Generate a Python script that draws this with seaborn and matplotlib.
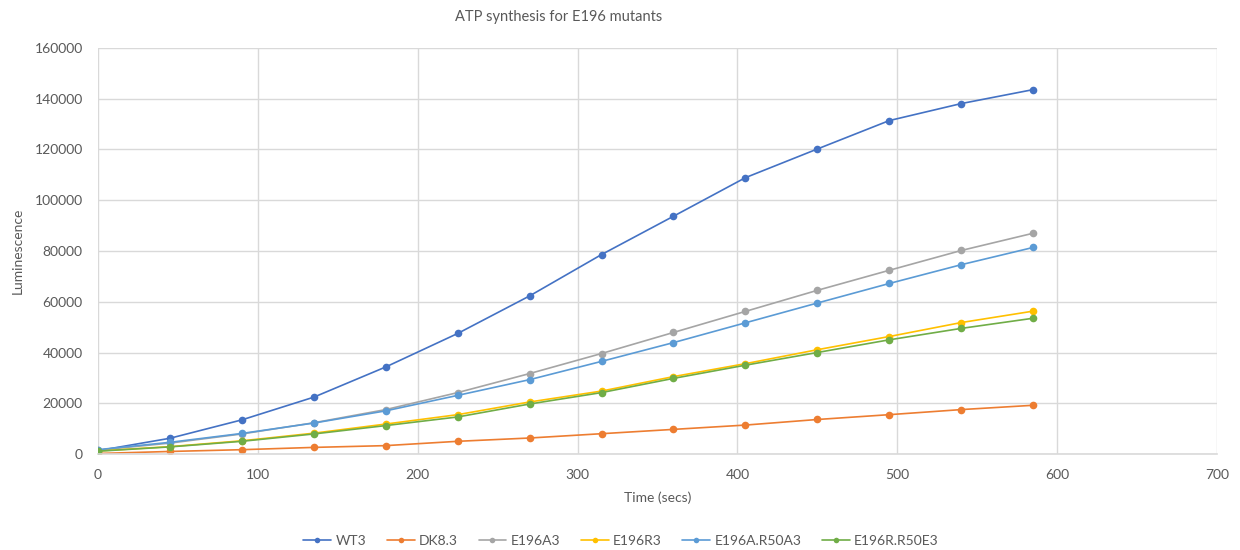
import matplotlib
matplotlib.use("Agg")
import matplotlib.pyplot as plt
import seaborn as sns
import pandas as pd

time_secs = [0, 45, 90, 135, 180, 225, 270, 315, 360, 405, 450, 495, 540, 585]
series_names = ["WT3", "DK8.3", "E196A3", "E196R3", "E196A.R50A3", "E196R.R50E3"]
wt3 = [1300, 6200, 13450, 22400, 34300, 47500, 62300, 78600, 93700, 108900, 120200, 131400, 138100, 143600]
dk83 = [200, 1000, 1700, 2600, 3300, 5000, 6300, 8000, 9700, 11400, 13600, 15500, 17500, 19200]
e196a3 = [1500, 4300, 7900, 12300, 17500, 24200, 31700, 39600, 47900, 56200, 64500, 72400, 80200, 87000]
e196r3 = [1200, 2900, 5200, 8200, 11800, 15500, 20500, 24800, 30500, 35600, 41100, 46300, 51800, 56300]
e196a_r50a3 = [1700, 4600, 8100, 12200, 17000, 23100, 29300, 36500, 43900, 51700, 59500, 67200, 74600, 81400]
e196r_r50e3 = [1100, 2800, 5000, 7900, 11200, 14600, 19700, 24200, 29800, 35000, 40000, 45000, 49500, 53500]
colors = ["#4472C4", "#ED7D31", "#A5A5A5", "#FFC000", "#5B9BD5", "#70AD47"]

values = [wt3, dk83, e196a3, e196r3, e196a_r50a3, e196r_r50e3]
rows = []
for name, vals in zip(series_names, values):
    for t, v in zip(time_secs, vals):
        rows.append({"Time": t, "Luminescence": v, "Series": name})
df = pd.DataFrame(rows)

sns.set_theme(style="white")
plt.rcParams["font.family"] = ["Lato", "DejaVu Sans"]
text_color = "#595959"
grid_color = "#D9D9D9"

fig = plt.figure(figsize=(12.4, 5.5), dpi=100)
ax = fig.add_axes([98 / 1240, 1 - 454 / 550, (1217 - 98) / 1240, (454 - 48) / 550])

sns.lineplot(data=df, x="Time", y="Luminescence", hue="Series", hue_order=series_names,
             palette=colors, marker="o", markersize=5.5, markeredgewidth=0,
             linewidth=1.2, ax=ax, legend=False)

ax.set_xlim(0, 700)
ax.set_ylim(0, 160000)
ax.set_xticks(range(0, 701, 100))
ax.set_yticks(range(0, 160001, 20000))
ax.grid(True, color=grid_color, linewidth=1)
ax.set_axisbelow(True)
for s in ["left", "right", "top"]:
    ax.spines[s].set_visible(False)
ax.spines["bottom"].set_color(grid_color)
ax.spines["bottom"].set_linewidth(1.2)
ax.tick_params(axis="both", length=0, labelsize=10, colors=text_color)
ax.tick_params(axis="x", pad=11)
ax.tick_params(axis="y", pad=11)

ax.set_xlabel("Time (secs)", fontsize=10, color=text_color, va="center")
ax.xaxis.set_label_coords(0.5, (454 - 498) / 406)
ax.set_ylabel("Luminescence", fontsize=10, color=text_color, va="center")
ax.yaxis.set_label_coords((18 - 98) / 1119, 0.5)

fig.text(559 / 1240, 1 - 17 / 550, "ATP synthesis for E196 mutants", ha="center", va="center",
         fontsize=10.5, color=text_color)

handles = [plt.Line2D([], [], color=c, marker="o", markersize=4, markeredgewidth=0, linewidth=1.2)
           for c in colors]
fig.legend(handles, series_names, loc="center", bbox_to_anchor=(621 / 1240, 1 - 541 / 550), ncol=6,
           frameon=False, fontsize=10, labelcolor=text_color, handlelength=2.0,
           handletextpad=0.3, columnspacing=1.5)

fig.savefig("out.png", dpi=100)
